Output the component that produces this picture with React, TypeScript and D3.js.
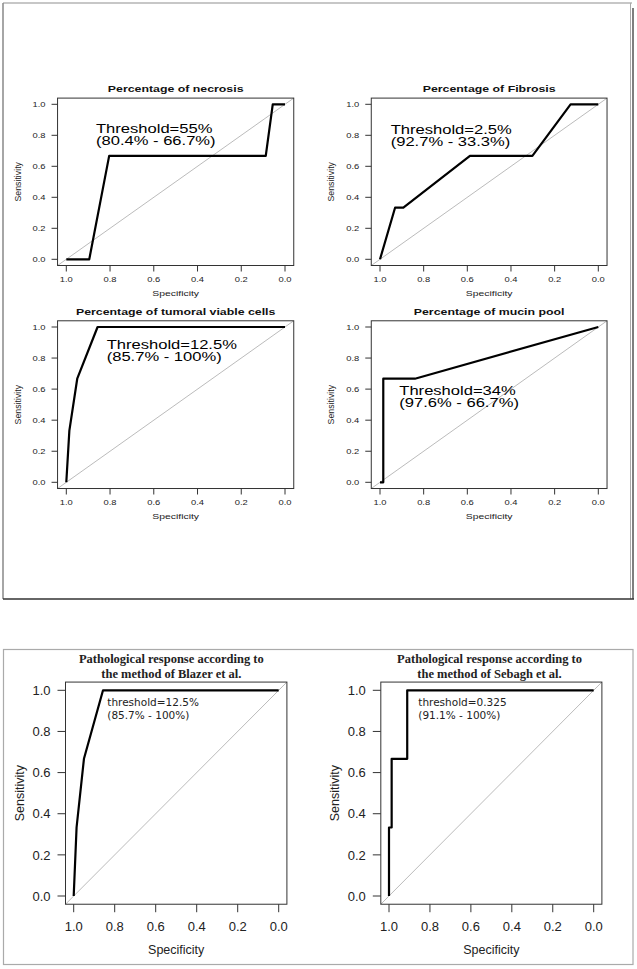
import React from 'react';
import * as d3 from 'd3';

// axis ticks shared by all six ROC panels
const specTicks = [1.0, 0.8, 0.6, 0.4, 0.2, 0.0];
const sensTicks = [0.0, 0.2, 0.4, 0.6, 0.8, 1.0];

// ROC curves (specificity, sensitivity)
const necrosisSpec = [1.0, 0.895, 0.804, 0.088, 0.056, 0.0];
const necrosisSens = [0.0, 0.0, 0.667, 0.667, 1.0, 1.0];

const fibrosisSpec = [1.0, 0.931, 0.893, 0.588, 0.302, 0.127, 0.0];
const fibrosisSens = [0.0, 0.333, 0.333, 0.667, 0.667, 1.0, 1.0];

const viableSpec = [1.0, 0.986, 0.95, 0.857, 0.0];
const viableSens = [0.0, 0.333, 0.667, 1.0, 1.0];

const mucinSpec = [1.0, 0.985, 0.985, 0.84, 0.0];
const mucinSens = [0.0, 0.0, 0.667, 0.667, 1.0];

const blazerSpec = [1.0, 0.986, 0.95, 0.857, 0.0];
const blazerSens = [0.0, 0.333, 0.667, 1.0, 1.0];

const sebaghSpec = [1.0, 1.0, 0.987, 0.987, 0.911, 0.911, 0.0];
const sebaghSens = [0.0, 0.333, 0.333, 0.667, 0.667, 1.0, 1.0];

const titles = [
  ['Percentage of necrosis'],
  ['Percentage of Fibrosis'],
  ['Percentage of tumoral viable cells'],
  ['Percentage of mucin pool'],
  ['Pathological response according to', 'the method of Blazer et al.'],
  ['Pathological response according to', 'the method of Sebagh et al.'],
];

const notes = [
  ['Threshold=55%', '(80.4% - 66.7%)'],
  ['Threshold=2.5%', '(92.7% - 33.3%)'],
  ['Threshold=12.5%', '(85.7% - 100%)'],
  ['Threshold=34%', '(97.6% - 66.7%)'],
  ['threshold=12.5%', '(85.7% - 100%)'],
  ['threshold=0.325', '(91.1% - 100%)'],
];

const series = [
  [necrosisSpec, necrosisSens],
  [fibrosisSpec, fibrosisSens],
  [viableSpec, viableSens],
  [mucinSpec, mucinSens],
  [blazerSpec, blazerSens],
  [sebaghSpec, sebaghSens],
];

// pixel layout of each panel: where spec 1..0 and sens 0..1 land
const layout = [
  { xr: [66.3, 285], yr: [259.3, 104.3], note: [96, 133], top: true },
  { xr: [380, 598.3], yr: [259.3, 104.3], note: [390.7, 134], top: true },
  { xr: [66.3, 285], yr: [482.3, 327], note: [106.7, 349], top: true },
  { xr: [380, 598.3], yr: [482.3, 327], note: [399.3, 395], top: true },
  { xr: [73.7, 278.7], yr: [896, 690.3], note: [107.3, 706], top: false, tx: 171.3 },
  { xr: [389, 593.7], yr: [896, 690.3], note: [418.3, 706], top: false, tx: 489.5 },
];

const SX = 1.3; // the top figure is stretched sideways
const sans = '"Liberation Sans", Arial, Helvetica, sans-serif';

function Txt({ x, y, size, sx = 1, anchor = 'start', weight = 'normal', family = sans, fill = '#111', children }: any) {
  return (
    <text
      transform={`translate(${x},${y}) scale(${sx},1)`}
      fontSize={size}
      fontFamily={family}
      fontWeight={weight}
      textAnchor={anchor}
      fill={fill}
    >
      {children}
    </text>
  );
}

function Panel({ i }: { i: number }) {
  const L = layout[i];
  const [spec, sens] = series[i];
  const x = d3.scaleLinear().domain([1, 0]).range(L.xr);
  const y = d3.scaleLinear().domain([0, 1]).range(L.yr);
  const bx0 = x(1.04), bx1 = x(-0.04), by0 = y(1.04), by1 = y(-0.04);
  const pts = spec.map((s, k) => [s, sens[k]] as [number, number]);
  const line = d3.line<[number, number]>().x(d => x(d[0])).y(d => y(d[1]));
  const top = L.top;
  const sx = top ? SX : 1;
  const tickLen = top ? 6 : 8;
  const tickSize = top ? 7.2 : 13;
  const labSize = top ? 8 : 12.5;
  const fmt = d3.format('.1f');

  return (
    <g>
      {/* title */}
      {top ? (
        <Txt x={(bx0 + bx1) / 2} y={by0 - 6} size={9.5} sx={sx} anchor="middle" weight="bold">
          {titles[i][0]}
        </Txt>
      ) : (
        titles[i].map((t, k) => (
          <Txt key={k} x={L.tx} y={662.7 + k * 15} size={12.5} anchor="middle" weight="bold"
            family='"Liberation Serif", "Times New Roman", serif' fill="#222">
            {t}
          </Txt>
        ))
      )}

      {/* diagonal */}
      <line x1={bx0} y1={by1} x2={bx1} y2={by0} stroke="#aaa" strokeWidth={0.8} />

      {/* box */}
      <rect x={bx0} y={by0} width={bx1 - bx0} height={by1 - by0} fill="none" stroke="#333" strokeWidth={1} />

      {/* x axis */}
      {specTicks.map(t => (
        <g key={'x' + t}>
          <line x1={x(t)} x2={x(t)} y1={by1} y2={by1 + tickLen} stroke="#333" strokeWidth={1} />
          <Txt x={x(t)} y={by1 + (top ? 16 : 27)} size={tickSize} sx={sx} anchor="middle" fill="#222">
            {fmt(t)}
          </Txt>
        </g>
      ))}
      <Txt x={(x(1) + x(0)) / 2} y={by1 + (top ? 30 : 50)} size={labSize} sx={sx} anchor="middle" fill="#222">
        Specificity
      </Txt>

      {/* y axis */}
      {sensTicks.map(t => (
        <g key={'y' + t}>
          <line x1={bx0 - tickLen} x2={bx0} y1={y(t)} y2={y(t)} stroke="#333" strokeWidth={1} />
          <Txt x={bx0 - (top ? 12 : 15)} y={y(t) + tickSize * 0.36} size={tickSize} sx={sx} anchor="end" fill="#222">
            {fmt(t)}
          </Txt>
        </g>
      ))}
      <text
        transform={`translate(${bx0 - (top ? 37 : 42)},${(y(0) + y(1)) / 2}) rotate(-90)`}
        fontSize={top ? 8.8 : 12.5}
        fontFamily={sans}
        textAnchor="middle"
        fill="#222"
      >
        Sensitivity
      </text>

      {/* ROC curve */}
      <path d={line(pts) ?? ''} fill="none" stroke="#000" strokeWidth={top ? 2.2 : 2.2} strokeLinejoin="round" />

      {/* threshold note */}
      {notes[i].map((t, k) =>
        top ? (
          <Txt key={k} x={L.note[0]} y={L.note[1] + k * 12} size={12} sx={1.38} fill="#000">
            {t}
          </Txt>
        ) : (
          <Txt key={k} x={L.note[0]} y={L.note[1] + k * 13.3} size={10.5}
            family='"DejaVu Sans", sans-serif' fill="#222">
            {t}
          </Txt>
        )
      )}
    </g>
  );
}

export default function App() {
  return (
    <svg width={637} height={969} style={{ position: 'absolute', left: 0, top: 0, background: '#fff' }}>
      <rect width={637} height={969} fill="#fff" />
      {/* frame of the upper figure */}
      <line x1={3} x2={632} y1={3} y2={3} stroke="#b5b5b5" strokeWidth={1.5} />
      <line x1={3} x2={3} y1={3} y2={599} stroke="#888" strokeWidth={1.5} />
      <line x1={630.5} x2={630.5} y1={3} y2={599} stroke="#aaa" strokeWidth={1} />
      <line x1={633} x2={633} y1={8} y2={599} stroke="#555" strokeWidth={1.5} />
      <line x1={3} x2={634} y1={599} y2={599} stroke="#333" strokeWidth={1.5} />
      {/* frame of the lower figure */}
      <rect x={3.5} y={649.5} width={629.5} height={315} fill="none" stroke="#aaa" strokeWidth={1.2} />
      {layout.map((_, i) => (
        <Panel key={i} i={i} />
      ))}
    </svg>
  );
}
